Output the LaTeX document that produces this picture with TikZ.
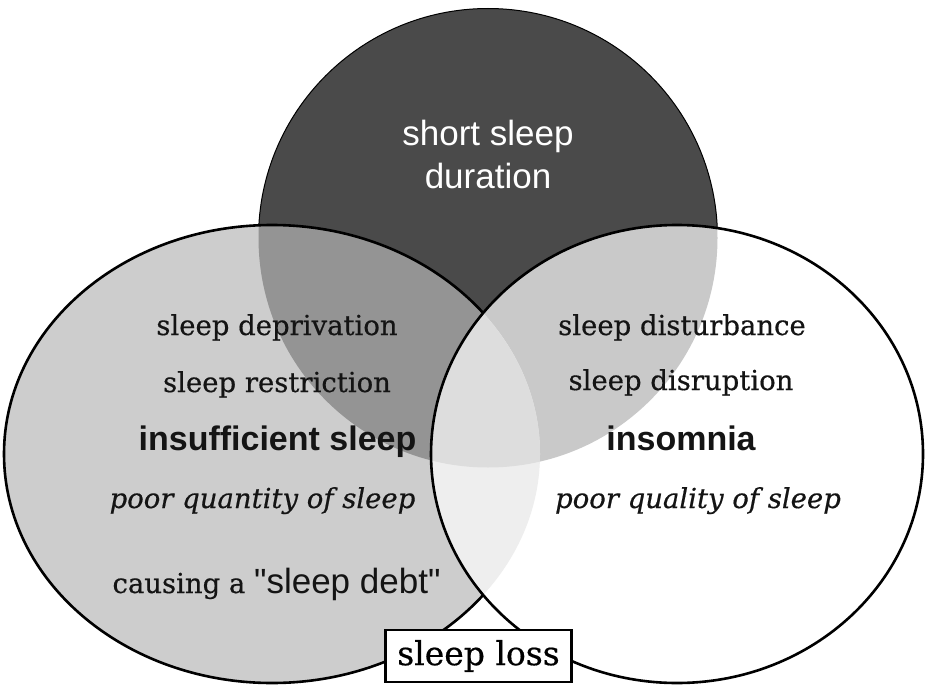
\documentclass[tikz,border=0pt]{standalone}
\usepackage{fontspec}
\setmainfont{DejaVu Serif}[FakeBold=0.5]
\setsansfont{Liberation Sans}
\newfontfamily\sansnq{Liberation Sans}[Ligatures=ResetAll]
\begin{document}
\begin{tikzpicture}[x=1pt,y=-1pt,
  serif/.style={font=\fontsize{27.5}{30}\selectfont, text=black!92, inner sep=0pt, anchor=base},
  serifit/.style={font=\fontsize{27.5}{30}\selectfont\itshape, text=black!92, inner sep=0pt, anchor=base},
  sansbig/.style={font=\sffamily\bfseries\fontsize{34}{38}\selectfont, text=black!92, inner sep=0pt, anchor=base},
  toptext/.style={font=\sffamily\fontsize{35}{40}\selectfont, text=white, inner sep=0pt, anchor=base},
  lossbox/.style={draw=black, fill=white, line width=2.8pt, minimum width=186, minimum height=52, inner sep=0pt,
    font=\fontsize{33}{36}\selectfont}
]
\definecolor{topdark}{HTML}{4A4A4A}
\definecolor{leftfill}{HTML}{CDCDCD}
\definecolor{ctl}{HTML}{949494}
\definecolor{ctr}{HTML}{C9C9C9}
\definecolor{clr}{HTML}{EEEEEE}
\definecolor{ctlr}{HTML}{DDDDDD}
\def\shapeTop{(488,238) circle [radius=229.5]}
\def\shapeLeft{(272,454) ellipse [x radius=268, y radius=229]}
\def\shapeRight{(677,454) ellipse [x radius=246, y radius=229]}
\useasboundingbox (0,0) rectangle (925,687);
% top circle
\fill[topdark] \shapeTop;
\draw[line width=1pt] \shapeTop;
% left ellipse
\fill[leftfill] \shapeLeft;
\begin{scope}
  \clip \shapeTop;
  \fill[ctl] \shapeLeft;
\end{scope}
\draw[line width=2.6pt] \shapeLeft;
% right ellipse
\fill[white] \shapeRight;
\begin{scope}
  \clip \shapeTop;
  \fill[ctr] \shapeRight;
\end{scope}
\begin{scope}
  \clip \shapeLeft;
  \fill[clr] \shapeRight;
  \clip \shapeTop;
  \fill[ctlr] \shapeRight;
\end{scope}
\draw[line width=2.6pt] \shapeRight;
% texts
\node[toptext] (t1) at (488,146) {short sleep};
\node[toptext] (t2) at (488,188) {duration};
\node[serif] (l1) at (277,335) {sleep deprivation};
\node[serif] (l2) at (277,392) {sleep restriction};
\node[sansbig] (l3) at (277.5,450) {insufficient sleep};
\node[serifit] (l4) at (262.5,508) {poor quantity of sleep};
\node[serif] (l5) at (276.5,593) {causing a {\sansnq\fontsize{35}{40}\selectfont "sleep debt"}};
\node[serif] (r1) at (682,335) {sleep disturbance};
\node[serif] (r2) at (681,390) {sleep disruption};
\node[sansbig] (r3) at (681,450) {insomnia};
\node[serifit] (r4) at (698,508) {poor quality of sleep};
\node[lossbox] (loss) at (478.5,656) {sleep loss};
\end{tikzpicture}
\end{document}
